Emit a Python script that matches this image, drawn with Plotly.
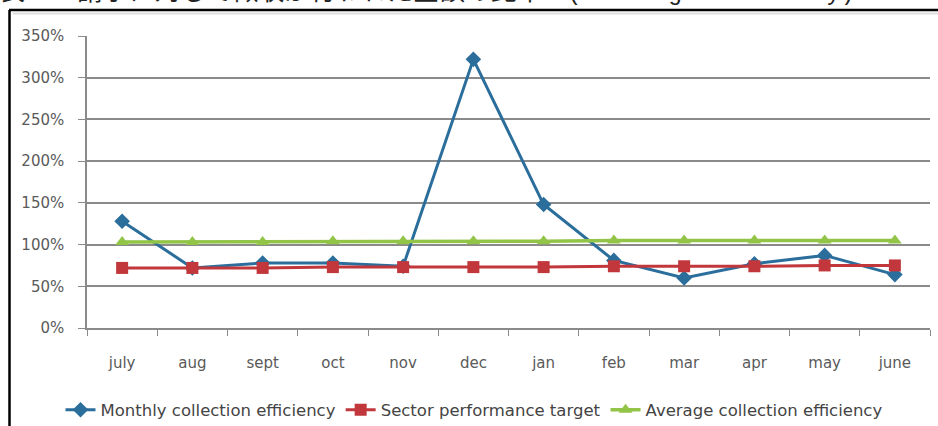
import plotly.graph_objects as go

# Monthly billing efficiency data (fraction of billed amount collected)
months = ["july", "aug", "sept", "oct", "nov", "dec", "jan", "feb", "mar", "apr", "may", "june"]
monthly_efficiency = [1.28, 0.72, 0.78, 0.78, 0.74, 3.22, 1.48, 0.81, 0.60, 0.77, 0.87, 0.64]
sector_target = [0.72, 0.72, 0.72, 0.73, 0.73, 0.73, 0.73, 0.74, 0.74, 0.74, 0.75, 0.75]
average_efficiency = [1.03, 1.03, 1.03, 1.04, 1.04, 1.04, 1.04, 1.05, 1.05, 1.05, 1.05, 1.05]
y_ticks = [0, 0.5, 1.0, 1.5, 2.0, 2.5, 3.0, 3.5]

W, H = 938, 426
L, R, T, B = 87, 8, 36, 98
PW, PH = W - L - R, H - T - B


def px_x(px):
    return (px - L) / PW


def px_y(py):
    return (H - B - py) / PH


BLUE = "#2b6e9c"
RED = "#c1373c"
GREEN = "#92c447"

fig = go.Figure()
fig.add_trace(go.Scatter(
    x=months, y=monthly_efficiency, name="Monthly collection efficiency",
    mode="lines+markers", line=dict(color=BLUE, width=3),
    marker=dict(symbol="diamond", size=12, color=BLUE),
))
fig.add_trace(go.Scatter(
    x=months, y=sector_target, name="Sector performance target",
    mode="lines+markers", line=dict(color=RED, width=3),
    marker=dict(symbol="square", size=12, color=RED),
))
fig.add_trace(go.Scatter(
    x=months, y=average_efficiency, name="Average collection efficiency",
    mode="lines+markers", line=dict(color=GREEN, width=3.5),
    marker=dict(symbol="triangle-up", size=12, color=GREEN),
))

axis_font = dict(family="DejaVu Sans, sans-serif", size=15, color="#5a5a5a")

fig.update_layout(
    width=W, height=H,
    margin=dict(l=L, r=R, t=T, b=B, autoexpand=False),
    paper_bgcolor="white", plot_bgcolor="white",
    showlegend=True,
    legend=dict(
        orientation="h", x=px_x(474), xanchor="center", y=px_y(410), yanchor="middle",
        font=dict(family="DejaVu Sans, sans-serif", size=16.5, color="#444444"),
        itemwidth=30, tracegroupgap=0,
    ),
    xaxis=dict(
        type="category", tickson="boundaries", ticks="outside", ticklen=6,
        tickcolor="#8a8a8a", showline=True, linecolor="#8a8a8a", linewidth=1.5,
        showgrid=False, tickfont=axis_font, ticklabelstandoff=20,
        range=[-0.5, len(months) - 0.5],
    ),
    yaxis=dict(
        range=[0, 3.5], tickvals=y_ticks, tickformat=".0%",
        ticks="outside", ticklen=7, tickcolor="#8a8a8a",
        showline=True, linecolor="#8a8a8a", linewidth=1.5,
        showgrid=True, gridcolor="#8a8a8a", gridwidth=1.6,
        zeroline=False, tickfont=axis_font, ticklabelstandoff=11,
    ),
    shapes=[
        dict(type="line", xref="paper", yref="paper",
             x0=px_x(9), x1=px_x(W + 2), y0=px_y(10), y1=px_y(10),
             line=dict(color="black", width=2.5)),
        dict(type="line", xref="paper", yref="paper",
             x0=px_x(13), x1=px_x(W + 2), y0=px_y(13.5), y1=px_y(13.5),
             line=dict(color="#dddddd", width=2)),
        dict(type="line", xref="paper", yref="paper",
             x0=px_x(9.5), x1=px_x(9.5), y0=px_y(10), y1=px_y(H + 2),
             line=dict(color="black", width=2.5)),
    ],
    annotations=[
        dict(text="表４：請求に対して徴収が行われた金額の比率",
             xref="paper", yref="paper", x=px_x(-3), y=px_y(9),
             xanchor="left", yanchor="bottom", showarrow=False,
             font=dict(family="Noto Sans CJK JP", size=26, color="#222222")),
        dict(text="(Billing Efficiency)",
             xref="paper", yref="paper", x=px_x(565), y=px_y(9),
             xanchor="left", yanchor="bottom", showarrow=False,
             font=dict(family="Liberation Mono", size=24, color="#222222")),
    ],
)

fig.write_html("out.html")
